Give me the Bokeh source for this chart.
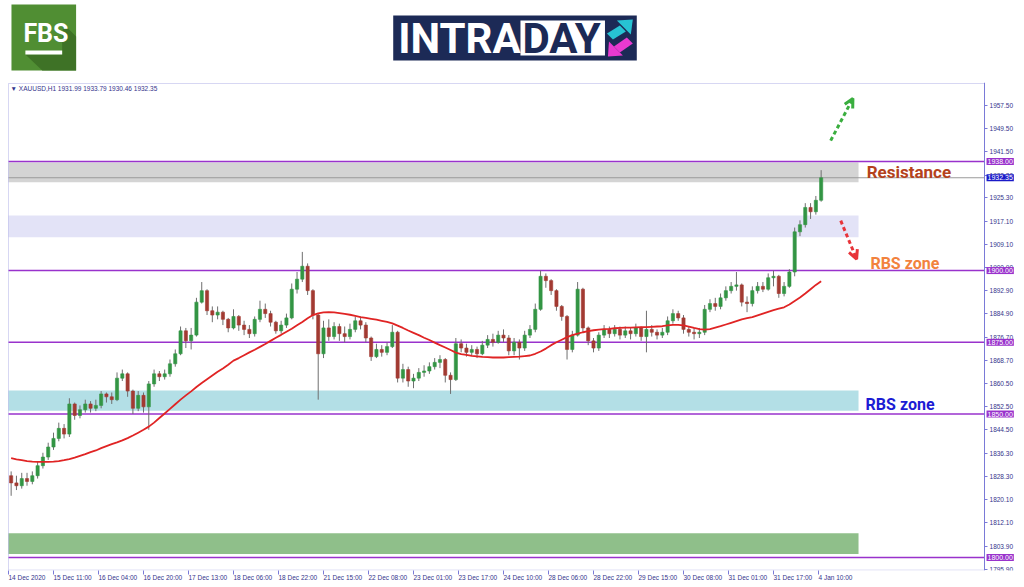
from bokeh.plotting import figure
from bokeh.layouts import column
from bokeh.models import (Range1d, FixedTicker, BoxAnnotation, Label, Arrow, OpenHead,
                          LinearAxis)
from bokeh.embed import file_html
from bokeh.resources import INLINE
from bokeh.core.properties import value

# ---------------- data ----------------
symbol_text = "\u25bc XAUUSD,H1  1931.99 1933.79 1930.46 1932.35"
x_tick_labels = ["14 Dec 2020", "15 Dec 11:00", "16 Dec 04:00", "16 Dec 20:00", "17 Dec 13:00",
                 "18 Dec 06:00", "18 Dec 22:00", "21 Dec 15:00", "22 Dec 08:00", "23 Dec 01:00",
                 "23 Dec 17:00", "24 Dec 10:00", "28 Dec 06:00", "28 Dec 22:00", "29 Dec 15:00",
                 "30 Dec 08:00", "31 Dec 01:00", "31 Dec 17:00", "4 Jan 10:00"]
y_tick_labels = ["1795.90", "1803.90", "1812.10", "1820.10", "1828.30", "1836.30", "1844.50",
                 "1852.50", "1860.50", "1868.70", "1876.70", "1884.90", "1892.90", "1900.90",
                 "1909.10", "1917.10", "1925.30", "1933.30", "1941.50", "1949.50", "1957.50"]

first_open = 1828.5
closes = [1826.0, 1825.0, 1827.5, 1826.5, 1828.5, 1832.0, 1835.0, 1838.5, 1841.5, 1845.0,
          1843.0, 1853.5, 1849.5, 1851.5, 1853.5, 1852.0, 1853.0, 1857.0, 1856.0, 1855.0,
          1862.5, 1864.0, 1858.0, 1852.0, 1856.5, 1852.5, 1860.5, 1864.0, 1863.0, 1864.0,
          1867.5, 1871.0, 1879.0, 1875.5, 1877.5, 1889.0, 1893.0, 1886.0, 1884.5, 1885.5,
          1883.0, 1880.0, 1884.0, 1881.0, 1879.5, 1878.0, 1883.0, 1886.5, 1885.0, 1882.0,
          1879.0, 1881.0, 1883.5, 1893.5, 1897.0, 1901.5, 1893.0, 1884.5, 1871.0, 1880.0,
          1877.0, 1880.5, 1878.0, 1877.0, 1879.5, 1882.5, 1881.0, 1876.5, 1870.0, 1872.5,
          1871.5, 1873.5, 1878.5, 1862.5, 1865.5, 1861.5, 1862.5, 1864.5, 1865.0, 1866.5,
          1868.0, 1869.0, 1863.5, 1862.0, 1874.5, 1873.0, 1871.5, 1872.5, 1871.0, 1874.0,
          1876.0, 1875.0, 1877.5, 1876.5, 1872.0, 1875.0, 1873.0, 1877.5, 1879.5, 1886.5,
          1898.0, 1896.5, 1893.0, 1887.5, 1884.0, 1872.5, 1877.5, 1893.5, 1880.0, 1875.5,
          1873.0, 1877.5, 1879.5, 1878.0, 1879.5, 1877.5, 1879.0, 1878.0, 1880.0, 1877.0,
          1879.5, 1878.5, 1877.5, 1878.5, 1882.5, 1885.0, 1883.5, 1879.5, 1878.5, 1878.0,
          1878.5, 1886.5, 1888.5, 1887.5, 1890.5, 1893.0, 1894.5, 1895.0, 1889.0, 1888.5,
          1893.0, 1894.5, 1893.5, 1897.5, 1898.0, 1892.0, 1894.5, 1899.5, 1913.5, 1916.0,
          1922.0, 1920.5, 1924.5, 1932.35]
highs = [1830.0, 1828.5, 1829.5, 1829.5, 1830.0, 1833.5, 1836.5, 1840.0, 1843.5, 1847.0,
         1846.5, 1855.5, 1854.0, 1853.0, 1855.0, 1854.5, 1855.0, 1858.0, 1857.5, 1857.5,
         1864.5, 1865.5, 1864.5, 1858.5, 1858.0, 1857.5, 1861.5, 1865.5, 1865.0, 1865.5,
         1869.0, 1872.5, 1880.5, 1880.0, 1880.0, 1890.5, 1896.0, 1893.5, 1887.5, 1887.5,
         1886.0, 1883.5, 1886.5, 1884.5, 1882.5, 1881.0, 1884.0, 1889.5, 1888.5, 1886.0,
         1882.5, 1882.5, 1885.0, 1895.5, 1899.5, 1906.5, 1902.5, 1893.5, 1885.0, 1882.5,
         1883.0, 1882.0, 1881.5, 1880.5, 1881.5, 1884.0, 1884.0, 1882.0, 1877.0, 1874.5,
         1874.0, 1875.0, 1881.0, 1879.0, 1867.5, 1866.5, 1864.0, 1866.0, 1867.0, 1868.0,
         1869.5, 1870.5, 1869.5, 1864.5, 1876.5, 1876.0, 1874.5, 1874.0, 1873.5, 1875.5,
         1877.5, 1878.0, 1879.0, 1879.5, 1877.5, 1876.5, 1876.0, 1879.0, 1881.0, 1888.5,
         1900.0, 1899.0, 1897.0, 1893.5, 1888.0, 1884.5, 1879.0, 1896.0, 1894.0, 1880.5,
         1876.5, 1878.5, 1881.0, 1880.5, 1881.0, 1880.5, 1880.5, 1880.0, 1881.5, 1880.5,
         1886.0, 1881.0, 1879.5, 1880.0, 1884.0, 1886.5, 1886.0, 1884.5, 1880.5, 1880.0,
         1880.0, 1888.0, 1890.0, 1890.5, 1892.0, 1894.5, 1896.0, 1899.5, 1895.5, 1891.0,
         1894.5, 1896.0, 1896.0, 1899.0, 1900.0, 1898.5, 1896.0, 1900.5, 1915.0, 1917.5,
         1923.5, 1923.5, 1926.0, 1935.0]
lows = [1821.5, 1823.5, 1824.0, 1825.0, 1825.5, 1827.5, 1831.0, 1834.0, 1837.5, 1840.5,
        1841.5, 1842.0, 1848.0, 1848.5, 1850.5, 1850.5, 1851.0, 1852.0, 1854.0, 1853.5,
        1854.5, 1861.5, 1856.0, 1850.0, 1851.0, 1850.5, 1844.5, 1859.5, 1861.5, 1862.0,
        1863.0, 1866.5, 1870.5, 1873.0, 1872.5, 1877.0, 1888.5, 1884.5, 1882.0, 1883.0,
        1881.0, 1878.5, 1879.5, 1879.0, 1877.5, 1876.5, 1877.0, 1882.0, 1883.5, 1880.5,
        1878.0, 1878.0, 1880.0, 1883.0, 1892.0, 1896.0, 1891.5, 1883.0, 1855.0, 1869.5,
        1875.5, 1876.0, 1875.5, 1875.0, 1876.0, 1878.5, 1879.5, 1875.0, 1868.5, 1869.5,
        1870.0, 1870.5, 1873.0, 1861.0, 1861.0, 1859.5, 1859.0, 1861.5, 1863.0, 1864.0,
        1865.5, 1866.0, 1861.0, 1857.0, 1861.5, 1871.5, 1870.0, 1870.5, 1869.5, 1870.5,
        1873.0, 1873.5, 1874.5, 1875.0, 1870.5, 1870.5, 1869.0, 1872.0, 1876.5, 1878.5,
        1886.0, 1894.0, 1891.5, 1886.0, 1882.5, 1869.0, 1871.5, 1877.0, 1878.5, 1874.0,
        1871.5, 1872.0, 1876.5, 1876.5, 1877.0, 1876.0, 1876.5, 1876.0, 1877.0, 1875.5,
        1871.5, 1877.0, 1876.0, 1876.5, 1877.5, 1881.5, 1882.5, 1878.0, 1877.0, 1876.0,
        1876.5, 1877.5, 1885.5, 1886.0, 1886.5, 1889.5, 1892.0, 1893.0, 1887.5, 1885.5,
        1887.5, 1892.0, 1892.5, 1893.0, 1894.5, 1890.5, 1891.0, 1894.0, 1898.0, 1912.0,
        1915.0, 1918.0, 1919.5, 1924.0]
ma = [1834.6, 1834.2, 1833.9, 1833.6, 1833.4, 1833.3, 1833.3, 1833.3, 1833.4, 1833.6,
      1833.9, 1834.3, 1834.8, 1835.4, 1836.0, 1836.7, 1837.3, 1838.1, 1838.8, 1839.5,
      1840.1, 1840.8, 1841.6, 1842.5, 1843.5, 1844.5, 1845.6, 1847.0, 1848.6, 1850.2,
      1851.8, 1853.4, 1855.0, 1856.5, 1857.9, 1859.4, 1860.8, 1862.1, 1863.4, 1864.7,
      1865.9, 1867.2, 1868.6, 1869.5, 1870.5, 1871.5, 1872.4, 1873.4, 1874.4, 1875.5,
      1876.6, 1877.6, 1878.7, 1879.7, 1880.9, 1882.1, 1883.4, 1884.5, 1885.1, 1885.4,
      1885.5, 1885.4, 1885.2, 1884.9, 1884.6, 1884.2, 1883.8, 1883.5, 1883.2, 1882.9,
      1882.5, 1882.1, 1881.6, 1880.8, 1880.0, 1879.1, 1878.3, 1877.5, 1876.6, 1875.8,
      1874.9, 1874.0, 1873.2, 1872.3, 1871.4, 1870.9, 1870.6, 1870.3, 1870.1, 1869.9,
      1869.8, 1869.7, 1869.7, 1869.7, 1869.8, 1869.9, 1870.0, 1870.2, 1870.4, 1871.0,
      1871.8, 1872.8, 1874.0, 1875.0, 1875.9, 1876.8, 1877.5, 1878.0, 1878.5, 1878.9,
      1879.2, 1879.4, 1879.6, 1879.7, 1879.9, 1880.0, 1880.1, 1880.1, 1880.2, 1880.3,
      1880.3, 1880.4, 1880.5, 1880.6, 1880.9, 1881.1, 1881.1, 1880.9, 1880.5, 1880.0,
      1879.6, 1879.4, 1879.6, 1880.1, 1880.6, 1881.2, 1881.8, 1882.4, 1883.0, 1883.4,
      1883.8, 1884.4, 1885.0, 1885.6, 1886.2, 1886.7, 1887.2, 1888.2, 1889.4, 1890.6,
      1892.0, 1893.5, 1895.0, 1896.3]

levels = [1938.0, 1900.0, 1875.0, 1850.0, 1800.0]
last_price = 1932.35
zone_lows = [1930.8, 1911.6, 1851.1, 1801.2]
zone_highs = [1937.7, 1919.2, 1858.2, 1808.4]

# ---------------- layout constants ----------------
W = 1024
HDR_H = 82
MAIN_H = 587 - HDR_H
X0, X1 = -0.378, 191.91      # frame spans page x 6..1024, bar slot = 5.294 px
AX_X = 184.36                # price-axis position (page x 984)
LABEL_STEP = 8.5             # bar slots between time labels
ZONE_END = 160.56
Y0, Y1 = 1795.46, 1965.55
BOX_BOTTOM, BOX_TOP = 1795.6, 1965.2
FRAME_COL = "#7b7bd8"
TXT_COL = "#34348c"
LVL_COL = "#9932cc"
FONT = "Liberation Sans"

# ---------------- header ----------------
hdr = figure(width=W, height=HDR_H, x_range=Range1d(0, W), y_range=Range1d(HDR_H, 0),
             toolbar_location=None, output_backend="svg", min_border=0,
             x_axis_location=None, y_axis_location=None)
hdr.grid.visible = False
hdr.outline_line_color = None

# FBS logo
hdr.quad(left=[5], right=[70], top=[4], bottom=[70], fill_color="#508e33", line_color=None)
hdr.patch(x=[57, 70, 70, 36, 19, 56, 56], y=[23, 36, 70, 70, 54, 54, 42],
          fill_color="#3e7226", line_color=None)
hdr.text(x=[17], y=[33], text=["FBS"], text_font=value("Roboto"), text_font_style="bold",
         text_font_size="25px", text_color="white", text_baseline="middle")
hdr.quad(left=[19], right=[56], top=[50], bottom=[54], fill_color="white", line_color=None)

# INTRADAY banner
hdr.quad(left=[389], right=[634], top=[15], bottom=[60], fill_color="#1c2a56", line_color=None)
hdr.quad(left=[517], right=[602], top=[20], bottom=[55], fill_color="white", line_color=None)
hdr.text(x=[394], y=[38], text=["INTRA"], text_font=value("Roboto"), text_font_style="bold",
         text_font_size="42px", text_color="white", text_baseline="middle")
hdr.text(x=[519], y=[38], text=["DAY"], text_font=value("Roboto"), text_font_style="bold",
         text_font_size="42px", text_color="#1c2a56", text_baseline="middle")
hdr.patch(x=[630, 614, 628], y=[19, 20, 34], fill_color="#27c3d3", line_color=None)
hdr.patch(x=[617, 623, 610, 604], y=[25, 31, 39, 33], fill_color="#27c3d3", line_color=None)
hdr.patch(x=[605, 620, 606], y=[56, 55, 41], fill_color="#e83ad0", line_color=None)
hdr.patch(x=[611, 617, 630, 624], y=[46, 52, 43, 37], fill_color="#e83ad0", line_color=None)

# ---------------- main chart ----------------
p = figure(width=W, height=MAIN_H, x_range=Range1d(X0, X1), y_range=Range1d(Y0, Y1),
           toolbar_location=None, output_backend="svg", y_axis_location=None,
           min_border_left=6, min_border_top=0, min_border_right=0, min_border_bottom=17)
p.grid.visible = False
p.outline_line_color = None
p.background_fill_color = "white"

# zones
zone_cols = ["#d4d4d4", "#e3e3f7", "#b3dfe6", "#8fbf8a"]
for lo, hi, c in zip(zone_lows, zone_highs, zone_cols):
    p.add_layout(BoxAnnotation(left=0, right=ZONE_END, bottom=lo, top=hi, fill_color=c,
                               fill_alpha=1.0, line_color=None, level="underlay"))

# chart frame
p.add_layout(BoxAnnotation(left=0, right=AX_X, bottom=BOX_BOTTOM, top=BOX_TOP, fill_alpha=0,
                           line_color=FRAME_COL, line_width=1))

# level lines
for lv in levels:
    p.segment(x0=[0], y0=[lv], x1=[AX_X], y1=[lv], line_color=LVL_COL, line_width=1.6)
p.segment(x0=[0], y0=[last_price], x1=[AX_X], y1=[last_price], line_color="#9a9a9a", line_width=1)

# candles
n = len(closes)
opens = [first_open] + closes[:-1]
xs = [i + 0.5 for i in range(n)]
tops = [max(o, c) for o, c in zip(opens, closes)]
bots = [min(o, c) for o, c in zip(opens, closes)]
cols = ["#339544" if c >= o else "#a23a32" for o, c in zip(opens, closes)]
p.segment(x0=xs, y0=lows, x1=xs, y1=highs, line_color="#6f6f6f", line_width=1)
p.vbar(x=xs, width=0.6, top=tops, bottom=bots, fill_color=cols, line_color=cols, line_width=0.6)

# moving average
p.line(x=xs, y=ma, line_color="#e02424", line_width=1.8)

# price axis (right, at a fixed position inside the frame)
yax = LinearAxis(fixed_location=AX_X)
yax.ticker = FixedTicker(ticks=[float(s) for s in y_tick_labels])
yax.major_label_overrides = {float(s): s for s in y_tick_labels}
p.add_layout(yax, "right")

# time axis
xax = p.xaxis[0]
xt = [k * LABEL_STEP for k in range(len(x_tick_labels))]
xax.ticker = FixedTicker(ticks=xt)
xax.major_label_overrides = {t: s for t, s in zip(xt, x_tick_labels)}
xax.major_label_orientation = -0.0001
xax.axis_line_color = None

for ax in (xax, yax):
    ax.major_tick_line_color = FRAME_COL
    ax.major_tick_in = 0
    ax.major_tick_out = 3
    ax.minor_tick_line_color = None
    ax.major_label_text_color = TXT_COL
    ax.major_label_text_font = FONT
    ax.major_label_text_font_size = "6.5px"
    ax.major_label_standoff = 2
yax.axis_line_color = FRAME_COL
xax.major_tick_out = 4
xax.major_label_standoff = 3

# price boxes on the axis
for lv in levels:
    p.add_layout(Label(x=AX_X, y=lv, x_offset=2, text=f"{lv:.2f}", text_align="left",
                       text_baseline="middle", text_font=FONT, text_font_size="7px",
                       text_color="white", background_fill_color=LVL_COL, padding=1))
p.add_layout(Label(x=AX_X, y=last_price, x_offset=2, text=f"{last_price:.2f}", text_align="left",
                   text_baseline="middle", text_font=FONT, text_font_size="7px",
                   text_color="white", background_fill_color="#1a1ac8", padding=1))

# symbol text
p.add_layout(Label(x=0.4, y=1963.4, text=symbol_text, text_baseline="middle", text_font=FONT,
                   text_font_size="6.5px", text_color=TXT_COL))

# annotations
p.add_layout(Label(x=162.1, y=1934.5, text="Resistance", text_baseline="middle", text_font="Roboto",
                   text_font_style="bold", text_font_size="17px", text_color="#b4421c"))
p.add_layout(Label(x=162.8, y=1902.3, text="RBS zone", text_baseline="middle", text_font="Roboto",
                   text_font_style="bold", text_font_size="16px", text_color="#f2823e"))
p.add_layout(Label(x=161.9, y=1853.3, text="RBS zone", text_baseline="middle", text_font="Roboto",
                   text_font_style="bold", text_font_size="16px", text_color="#1c1cd4"))

p.add_layout(Arrow(end=OpenHead(size=9, line_color="#3aae3f", line_width=3),
                   x_start=155.3, y_start=1945.3, x_end=159.5, y_end=1960.0,
                   line_color="#3aae3f", line_width=3, line_dash="4 3"))
p.add_layout(Arrow(end=OpenHead(size=9, line_color="#e8343a", line_width=3),
                   x_start=157.2, y_start=1917.4, x_end=160.2, y_end=1904.0,
                   line_color="#e8343a", line_width=3, line_dash="4 3"))

layout = column(hdr, p)
open("out.html", "w").write(file_html(layout, INLINE))
